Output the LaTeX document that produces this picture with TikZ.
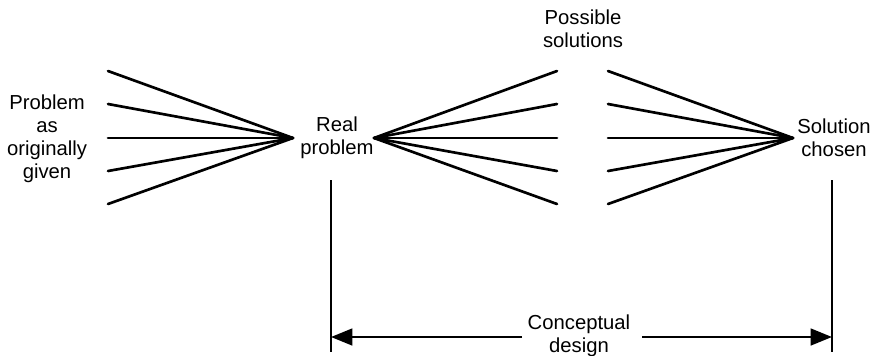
\documentclass[tikz,border=0pt]{standalone}
\usepackage{fontspec}
\setmainfont{Liberation Sans}
\usetikzlibrary{arrows.meta}
\begin{document}
\begin{tikzpicture}[x=0.75pt,y=-0.75pt,
  lbl/.style={align=center,inner sep=0pt,font=\fontsize{15.2}{17.25}\selectfont},
  ray/.style={line width=2pt,line cap=round},
  rule/.style={line width=1.9pt},
  dimarrow/.style={line width=1.9pt,-{Triangle[length=16pt,width=12.5pt]}}]
\useasboundingbox (0,0) rectangle (875,355);
\clip (0,0) rectangle (875,355);

% labels
\node[lbl] (given) at (47,139) {Problem\\as\\originally\\given};
\node[lbl] (real) at (337,138) {Real\\problem};
\node[lbl] (sols) at (583,29) {Possible\\solutions};
\node[lbl] (chosen) at (834,138) {Solution\\chosen};
\node[lbl,anchor=base] (cd) at (579,352) {Conceptual\\design};

% fan apexes
\coordinate (a1) at (293,138);
\coordinate (a2) at (374,138);
\coordinate (a3) at (793,138);

% fans of five rays each
\foreach \y [count=\i] in {71,104,138,171,204} {
  \coordinate (l\i) at (108,\y);
  \coordinate (m\i) at (557,\y);
  \coordinate (r\i) at (608,\y);
  \draw[ray] (l\i) -- (a1);
  \draw[ray] (a2) -- (m\i);
  \draw[ray] (r\i) -- (a3);
}

% extent lines and dimension arrows
\coordinate (vlt) at (331,180);
\coordinate (vlb) at (331,352);
\coordinate (vrt) at (832,180);
\coordinate (vrb) at (832,352);
\draw[rule] (vlt) -- (vlb);
\draw[rule] (vrt) -- (vrb);
\coordinate (gl) at (522,337);
\coordinate (gr) at (642,337);
\draw[dimarrow] (gl) -- (vlt |- gl);
\draw[dimarrow] (gr) -- (vrt |- gr);
\end{tikzpicture}
\end{document}
